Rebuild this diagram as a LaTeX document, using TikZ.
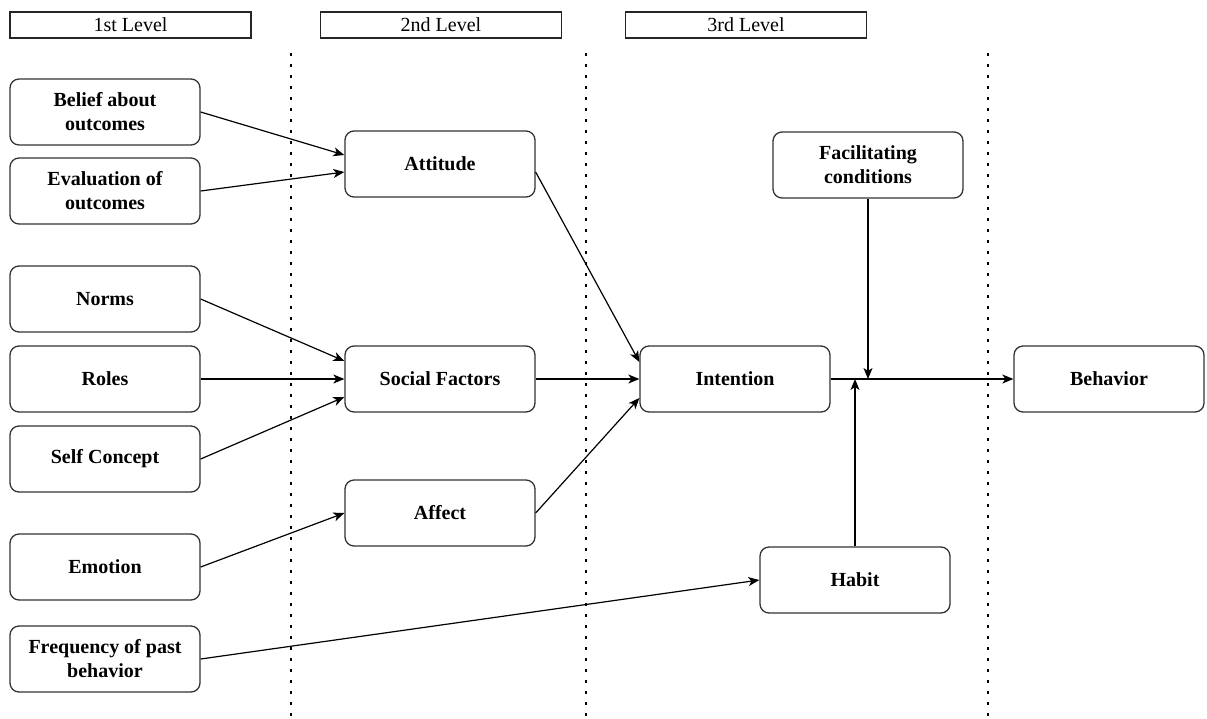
\documentclass[tikz,border=0pt]{standalone}
\usepackage{fontspec}
\setmainfont{Liberation Serif}
\usetikzlibrary{arrows.meta,positioning}
\tikzset{
  lvl/.style  = {draw=black!85, line width=1.3pt, minimum width=241pt,
                 minimum height=26pt, inner sep=0pt,
                 font=\fontsize{20}{24}\selectfont},
  box/.style  = {draw=black!80, line width=1.3pt, rounded corners=9pt,
                 minimum width=190pt, minimum height=66pt, inner sep=2pt,
                 align=center, font=\fontsize{20}{24}\selectfont\bfseries},
  e/.style    = {-{Stealth[length=11pt,width=9pt,inset=3pt]}, line width=1.2pt},
  sep/.style  = {line width=2.6pt, dash pattern=on 2.6pt off 8.4pt}
}

\begin{document}
\begin{tikzpicture}[x=1pt,y=-1pt]
  \useasboundingbox (0,0) rectangle (1207,718);

  % ---- level headers and separators ----
  \node[lvl] (l1) at (130.5,25) {1st Level};
  \node[lvl] (l2) at (441,25) {2nd Level};
  \node[lvl] (l3) at (746,25) {3rd Level};
  \draw[sep] (291,53) -- (291,716);
  \draw[sep] (586,53) -- (586,716);
  \draw[sep] (988,53) -- (988,716);

  % ---- 1st level ----
  \node[box] (bel) at (105,112) {Belief about\\outcomes};
  \node[box] (eva) at (105,191) {Evaluation of\\outcomes};
  \node[box] (nor) at (105,299) {Norms};
  \node[box] (rol) at (105,379) {Roles};
  \node[box] (slf) at (105,459) {Self Concept};
  \node[box] (emo) at (105,567) {Emotion};
  \node[box] (frq) at (105,659) {Frequency of past\\behavior};

  % ---- 2nd level ----
  \node[box] (att) at (440,164) {Attitude};
  \node[box] (soc) at (440,379) {Social Factors};
  \node[box] (aff) at (440,513) {Affect};

  % ---- 3rd level ----
  \node[box] (int) at (735,379) {Intention};
  \node[box] (fac) at (868,165) {Facilitating\\conditions};
  \node[box] (hab) at (855,580) {Habit};
  \node[box] (beh) at (1109,379) {Behavior};

  \draw[e] (bel.east) -- ([yshift=9pt]att.west);
  \draw[e] (eva.east) -- ([yshift=-8pt]att.west);
  \draw[e] (nor.east) -- ([yshift=18pt]soc.west);
  \draw[e] (rol.east) -- (soc.west);
  \draw[e] (slf.east) -- ([yshift=-18pt]soc.west);
  \draw[e] (emo.east) -- (aff.west);
  \draw[e] (frq.east) -- (hab.west);
  \draw[e] ([yshift=-8pt]att.east) -- ([yshift=17pt]int.west);
  \draw[e] (soc.east) -- (int.west);
  \draw[e] (aff.east) -- ([yshift=-19pt]int.west);
  \draw[e] (int.east) -- (beh.west);
  \draw[e] (fac.south) -- (fac.south |- int.east);
  \draw[e] (hab.north) -- (hab.north |- int.east);
\end{tikzpicture}
\end{document}
